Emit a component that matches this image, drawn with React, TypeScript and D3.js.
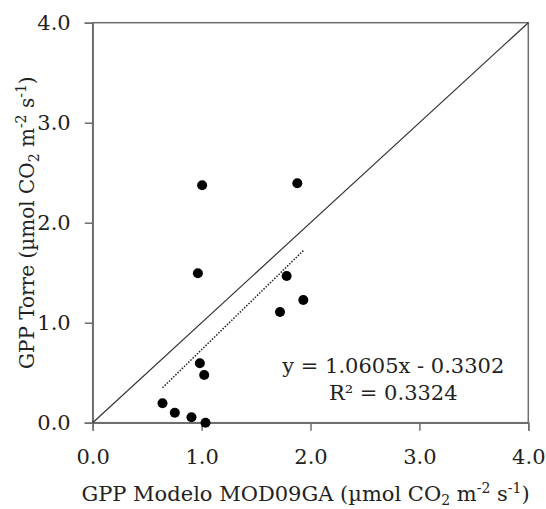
import React, { useEffect, useRef } from 'react';
import * as d3 from 'd3';

// GPP values (model on x, tower on y)
const gppModelo = [1.005, 1.879, 0.966, 1.781, 1.934, 1.72, 0.984, 1.024, 0.641, 0.754, 0.907, 1.036];
const gppTorre = [2.374, 2.394, 1.494, 1.467, 1.227, 1.107, 0.594, 0.477, 0.194, 0.1, 0.054, 0.0];
const tickValues = [0, 1, 2, 3, 4];
const slope = 1.0605;
const intercept = -0.3302;
const rSquared = 0.3324;

const W = 546;
const H = 509;
const FONT = '"DejaVu Serif", serif';

const App = () => {
  const svgRef = useRef<SVGSVGElement>(null);

  useEffect(() => {
    const svg = d3.select(svgRef.current);
    svg.selectAll('*').remove();

    const margin = { top: 22.7, right: 17.7, bottom: 86.3, left: 92.7 };
    const width = W - margin.left - margin.right;
    const height = H - margin.top - margin.bottom;

    const g = svg.append('g').attr('transform', `translate(${margin.left},${margin.top})`);

    const x = d3.scaleLinear().domain([0, 4]).range([0, width]);
    const y = d3.scaleLinear().domain([0, 4]).range([height, 0]);

    // Frame
    g.append('rect')
      .attr('width', width)
      .attr('height', height)
      .attr('fill', 'none')
      .attr('stroke', '#6e6e6e')
      .attr('stroke-width', 1.5);

    // Axes
    const xAxis = g.append('g')
      .attr('transform', `translate(0,${height})`)
      .call(d3.axisBottom(x).tickValues(tickValues).tickFormat(d3.format('.1f')).tickSize(8).tickPadding(18));
    const yAxis = g.append('g')
      .call(d3.axisLeft(y).tickValues(tickValues).tickFormat(d3.format('.1f')).tickSize(8).tickPadding(14));

    [xAxis, yAxis].forEach(ax => {
      ax.select('.domain').attr('stroke', '#6e6e6e').attr('stroke-width', 1.5);
      ax.selectAll('.tick line').attr('stroke', '#6e6e6e').attr('stroke-width', 1.5);
      ax.selectAll('.tick text')
        .attr('fill', '#222')
        .style('font-family', FONT)
        .style('font-size', '21px');
    });

    // 1:1 line
    g.append('line')
      .attr('x1', x(0)).attr('y1', y(0))
      .attr('x2', x(4)).attr('y2', y(4))
      .attr('stroke', '#333')
      .attr('stroke-width', 1.2);

    // Trend line over the data range
    const [xMin, xMax] = d3.extent(gppModelo) as [number, number];
    g.append('line')
      .attr('x1', x(xMin)).attr('y1', y(slope * xMin + intercept))
      .attr('x2', x(xMax)).attr('y2', y(slope * xMax + intercept))
      .attr('stroke', '#222')
      .attr('stroke-width', 1.5)
      .attr('stroke-dasharray', '1.5,1.5');

    // Points
    g.selectAll('.pt')
      .data(gppModelo.map((v, i) => [v, gppTorre[i]]))
      .enter()
      .append('circle')
      .attr('class', 'pt')
      .attr('cx', d => x(d[0]))
      .attr('cy', d => y(d[1]))
      .attr('r', 5)
      .attr('fill', '#000');

    // Equation
    const eq = g.append('text')
      .attr('text-anchor', 'middle')
      .attr('fill', '#222')
      .style('font-family', FONT)
      .style('font-size', '21px');
    eq.append('tspan')
      .attr('x', x(2.76))
      .attr('y', y(0.5))
      .text(`y = ${slope}x - ${Math.abs(intercept)}`);
    eq.append('tspan')
      .attr('x', x(2.76))
      .attr('y', y(0.23))
      .text(`R² = ${rSquared}`);

    // X axis title
    const xt = svg.append('text')
      .attr('x', margin.left + width / 2 - 5)
      .attr('y', 501)
      .attr('text-anchor', 'middle')
      .attr('fill', '#222')
      .style('font-family', FONT)
      .style('font-size', '21px');
    xt.append('tspan').text('GPP Modelo MOD09GA (µmol CO');
    xt.append('tspan').attr('dy', 4).style('font-size', '14px').text('2');
    xt.append('tspan').attr('dy', -4).text(' m');
    xt.append('tspan').attr('dy', -8).style('font-size', '14px').text('-2');
    xt.append('tspan').attr('dy', 8).text(' s');
    xt.append('tspan').attr('dy', -8).style('font-size', '14px').text('-1');
    xt.append('tspan').attr('dy', 8).text(')');

    // Y axis title
    const yt = svg.append('text')
      .attr('transform', `translate(34,${margin.top + height / 2}) rotate(-90)`)
      .attr('text-anchor', 'middle')
      .attr('fill', '#222')
      .style('font-family', FONT)
      .style('font-size', '20px');
    yt.append('tspan').text('GPP Torre (µmol CO');
    yt.append('tspan').attr('dy', 5).style('font-size', '14px').text('2');
    yt.append('tspan').attr('dy', -5).text(' m');
    yt.append('tspan').attr('dy', -8).style('font-size', '14px').text('-2');
    yt.append('tspan').attr('dy', 8).text(' s');
    yt.append('tspan').attr('dy', -8).style('font-size', '14px').text('-1');
    yt.append('tspan').attr('dy', 8).text(')');
  }, []);

  return (
    <svg
      ref={svgRef}
      width={W}
      height={H}
      style={{ position: 'absolute', left: 0, top: 0, background: '#fff' }}
    />
  );
};

export default App;
